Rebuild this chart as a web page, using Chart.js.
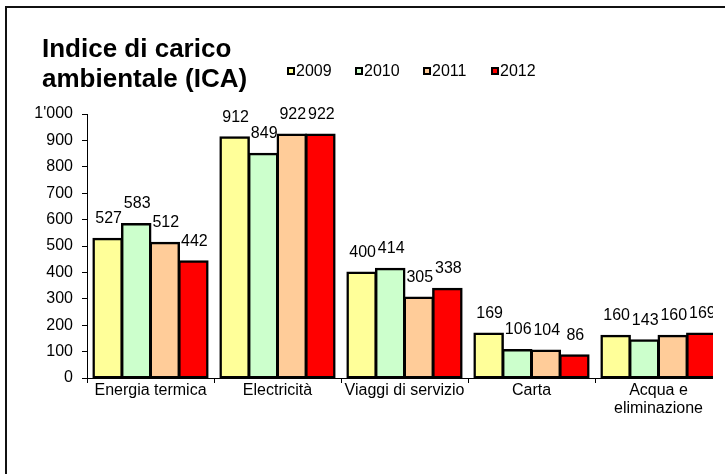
<!DOCTYPE html>
<html>
<head>
<meta charset="utf-8">
<script src="https://cdn.jsdelivr.net/npm/chart.js@4/dist/chart.umd.min.js"></script>
<style>
  html, body { margin: 0; padding: 0; background: #fff; }
  body { width: 725px; height: 474px; position: relative; overflow: hidden; font-family: "Liberation Sans", Arial, sans-serif; }
  #frame { position: absolute; left: 5px; top: 6px; width: 760px; height: 490px; border-left: 2px solid #111; border-top: 2px solid #111; }
  #clip { position: absolute; left: 0; top: 0; width: 713px; height: 474px; overflow: hidden; }
  #title { position: absolute; left: 42px; top: 33px; font-size: 26px; font-weight: bold; line-height: 30px; color: #000; }
  #legend { position: absolute; left: 287px; top: 62px; height: 18px; display: flex; }
  .item { width: 68px; display: flex; align-items: center; font-size: 16px; line-height: 18px; color: #000; }
  .box { width: 4px; height: 4px; border: 2px solid #000; margin-right: 1px; }
</style>
</head>
<body>
<div id="frame"></div>
<div id="clip"><canvas id="chart" width="740" height="474"></canvas></div>
<div id="title">Indice di carico<br>ambientale (ICA)</div>
<div id="legend"></div>
<script>
const categories = ['Energia termica', 'Electricità', 'Viaggi di servizio', 'Carta', ['Acqua e', 'eliminazione']];
const years = ['2009', '2010', '2011', '2012'];
const values2009 = [527, 912, 400, 169, 160];
const values2010 = [583, 849, 414, 106, 143];
const values2011 = [512, 922, 305, 104, 160];
const values2012 = [442, 922, 338, 86, 169];
const yearColors = ['#FFFF99', '#CCFFCC', '#FFCC99', '#FF0000'];
const yMin = 0;
const yMax = 1000;
const yStep = 100;

const font = '"Liberation Sans", Arial, sans-serif';
const series = [values2009, values2010, values2011, values2012];

// apostrophe as thousands separator, like 1'000
function formatNumber(v) {
  return String(v).replace(/\B(?=(\d{3})+(?!\d))/g, "'");
}

const valueLabels = {
  id: 'valueLabels',
  afterDatasetsDraw(chart) {
    const ctx = chart.ctx;
    ctx.save();
    ctx.font = '16px ' + font;
    ctx.fillStyle = '#000';
    ctx.textAlign = 'center';
    ctx.textBaseline = 'middle';
    chart.data.datasets.forEach((ds, i) => {
      chart.getDatasetMeta(i).data.forEach((bar, j) => {
        ctx.fillText(formatNumber(ds.data[j]), bar.x + 1, bar.y - 20);
      });
    });
    ctx.restore();
  }
};

const chart = new Chart(document.getElementById('chart').getContext('2d'), {
  type: 'bar',
  data: {
    labels: categories,
    datasets: years.map((y, i) => ({
      label: y,
      data: series[i],
      backgroundColor: yearColors[i],
      borderColor: '#000',
      borderWidth: 2.5,
      borderSkipped: false,
      inflateAmount: 1,
      categoryPercentage: 0.9,
      barPercentage: 1.0
    }))
  },
  options: {
    responsive: false,
    animation: false,
    layout: { padding: { top: 114, right: 18, bottom: 0, left: 0 } },
    plugins: {
      legend: { display: false },
      title: { display: false },
      tooltip: { enabled: false }
    },
    scales: {
      x: {
        grid: { display: true, drawOnChartArea: false, drawTicks: true, tickLength: 5, offset: true, color: '#000' },
        border: { display: true, color: '#000', width: 1 },
        ticks: { color: '#000', padding: -2, maxRotation: 0, autoSkip: false, font: { family: font, size: 16, lineHeight: 1.15 } },
        afterFit(scale) { scale.height = 96; }
      },
      y: {
        min: yMin,
        max: yMax,
        grid: { display: true, drawOnChartArea: false, drawTicks: true, tickLength: 5, color: '#000' },
        border: { display: true, color: '#000', width: 1 },
        ticks: { stepSize: yStep, color: '#000', padding: 9, font: { family: font, size: 16 }, callback: v => formatNumber(v) },
        afterFit(scale) { scale.width = 87; }
      }
    }
  },
  plugins: [valueLabels]
});

const legend = document.getElementById('legend');
chart.data.datasets.forEach(ds => {
  const item = document.createElement('div');
  item.className = 'item';
  const box = document.createElement('span');
  box.className = 'box';
  box.style.background = ds.backgroundColor;
  item.appendChild(box);
  item.appendChild(document.createTextNode(ds.label));
  legend.appendChild(item);
});
</script>
</body>
</html>
